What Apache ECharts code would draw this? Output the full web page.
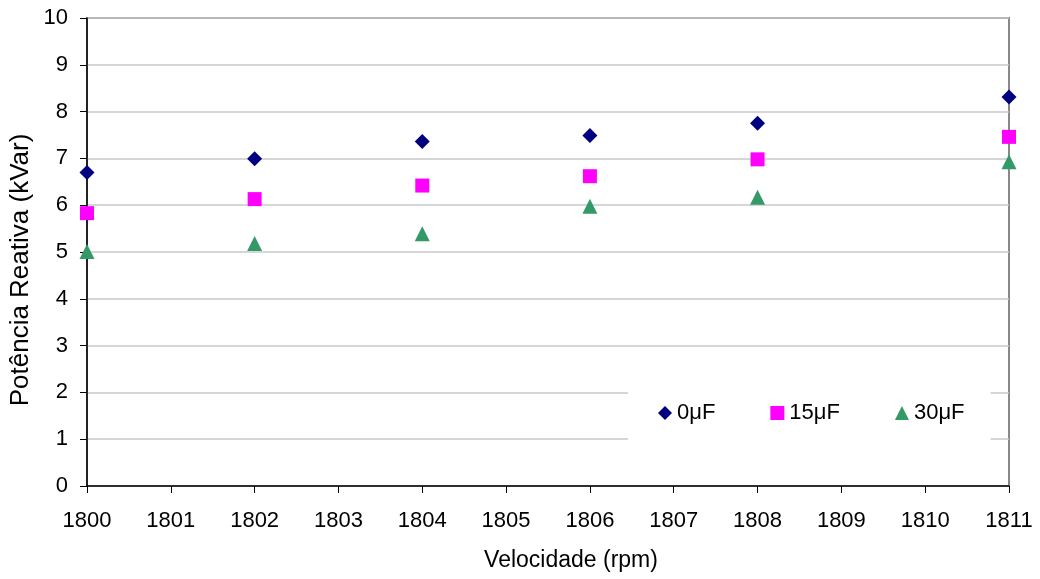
<!DOCTYPE html>
<html><head><meta charset="utf-8">
<script src="https://cdn.jsdelivr.net/npm/echarts@6/dist/echarts.min.js"></script>
<style>html,body{margin:0;padding:0;background:#fff}#c{width:1040px;height:579px}</style>
</head><body><div id="c"></div>
<script>
const speeds = [1800, 1802, 1804, 1806, 1808, 1811];
const s0uF = [6.70, 6.99, 7.36, 7.49, 7.75, 8.31];
const s15uF = [5.83, 6.13, 6.42, 6.62, 6.98, 7.46];
const s30uF = [5.01, 5.18, 5.39, 5.98, 6.17, 6.93];
const seriesNames = ['0μF', '15μF', '30μF'];
const xTitle = 'Velocidade (rpm)';
const yTitle = 'Potência Reativa (kVar)';
const FONT = '"Liberation Sans", Arial, sans-serif';
const FS = 22;
const pairs = v => speeds.map((x, i) => [x, v[i]]);
const chart = echarts.init(document.getElementById('c'));
chart.setOption({
  animation: false,
  textStyle: { fontFamily: FONT, color: '#000' },
  grid: { left: 87, right: 31, top: 18, bottom: 93, show: true, borderColor: '#888', borderWidth: 2, backgroundColor: 'transparent' },
  graphic: [
    { type: 'text', x: 571, y: 561, style: { text: xTitle, font: '23px ' + FONT, fill: '#000', align: 'center', verticalAlign: 'middle' } },
    { type: 'text', x: 21, y: 270, rotation: Math.PI / 2, style: { text: yTitle, font: '26px ' + FONT, fill: '#000', align: 'center', verticalAlign: 'middle' } }
  ],
  xAxis: {
    type: 'value', min: 1800, max: 1811, interval: 1,
    axisLine: { show: true, onZero: false, lineStyle: { color: '#000', width: 1.5 } },
    axisTick: { show: true, length: 7, lineStyle: { color: '#000' } },
    axisLabel: { fontSize: FS, color: '#000', margin: 24, fontFamily: FONT, formatter: v => String(v) },
    splitLine: { show: false }
  },
  yAxis: {
    type: 'value', min: 0, max: 10, interval: 1,
    axisLine: { show: true, onZero: false, lineStyle: { color: '#000', width: 1.5 } },
    axisTick: { show: true, length: 7, lineStyle: { color: '#000' } },
    axisLabel: { fontSize: FS, color: '#000', margin: 19, fontFamily: FONT },
    splitLine: { show: true, lineStyle: { color: '#c8c8c8', width: 1.5 } }
  },
  legend: {
    left: 628, top: 380, orient: 'horizontal',
    backgroundColor: '#fff',
    padding: [22, 26, 24, 30],
    itemGap: 55, itemWidth: 14, itemHeight: 14,
    textStyle: { fontSize: FS, color: '#000', fontFamily: FONT },
    data: [
      { name: seriesNames[0], icon: 'diamond' },
      { name: seriesNames[1], icon: 'rect' },
      { name: seriesNames[2], icon: 'triangle' }
    ]
  },
  series: [
    { name: seriesNames[0], type: 'scatter', symbol: 'diamond', symbolSize: 15, itemStyle: { color: '#000080', opacity: 1 }, data: pairs(s0uF), z: 5 },
    { name: seriesNames[1], type: 'scatter', symbol: 'rect', symbolSize: 14, itemStyle: { color: '#ff00ff', opacity: 1 }, data: pairs(s15uF), z: 5 },
    { name: seriesNames[2], type: 'scatter', symbol: 'triangle', symbolSize: 15, itemStyle: { color: '#339966', opacity: 1 }, data: pairs(s30uF), z: 5 }
  ]
});
</script></body></html>
